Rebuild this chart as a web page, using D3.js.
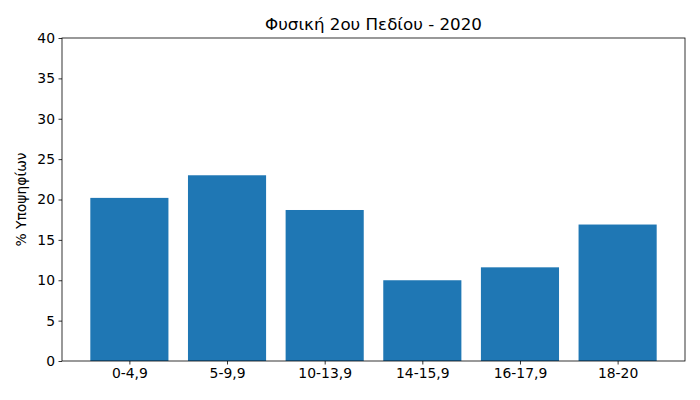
<!DOCTYPE html>
<html>
<head>
<meta charset="utf-8">
<script src="https://cdn.jsdelivr.net/npm/d3@7"></script>
<style>
  body { margin: 0; background: #fff; }
  text { font-family: "DejaVu Sans", sans-serif; }
</style>
</head>
<body>
<svg id="chart" width="700" height="400"></svg>
<script>
const categories = ['0-4,9', '5-9,9', '10-13,9', '14-15,9', '16-17,9', '18-20']
const percents = [20.2, 23.0, 18.7, 10.0, 11.6, 16.9]
const yTicks = [0, 5, 10, 15, 20, 25, 30, 35, 40]
const title = 'Φυσική 2ου Πεδίου - 2020'
const yLabel = '% Υποψηφίων'

const margin = { top: 38, right: 15, bottom: 39, left: 62 }
const width = 700 - margin.left - margin.right
const height = 400 - margin.top - margin.bottom

let svg = d3.select('#chart')
let g = svg.append('g').attr('transform', `translate(${margin.left},${margin.top})`)

// matplotlib style: bars of width 0.8 at integer positions, 5% margins
const pad = (categories.length - 1 + 0.8) * 0.05
let x = d3.scaleLinear()
    .domain([-0.4 - pad, categories.length - 1 + 0.4 + pad])
    .range([0, width])
let y = d3.scaleLinear().domain([0, 40]).range([height, 0])

g.selectAll('rect.bar')
    .data(percents)
    .join('rect')
    .attr('class', 'bar')
    .attr('x', (d, i) => x(i - 0.4))
    .attr('width', (d, i) => x(i + 0.4) - x(i - 0.4))
    .attr('y', d => y(d))
    .attr('height', d => y(0) - y(d))
    .attr('fill', '#1f77b4')

let xAxis = g.append('g')
    .attr('transform', `translate(0,${height})`)
    .call(d3.axisBottom(x)
        .tickValues(d3.range(categories.length))
        .tickFormat(i => categories[i])
        .tickSizeInner(3.5).tickSizeOuter(0).tickPadding(3.5))
let yAxis = g.append('g')
    .call(d3.axisLeft(y).tickValues(yTicks)
        .tickSizeInner(3.5).tickSizeOuter(0).tickPadding(3.5))

for (let ax of [xAxis, yAxis]) {
    ax.select('.domain').remove()
    ax.selectAll('text').attr('font-size', 13.9).attr('fill', '#000')
        .attr('font-family', '"DejaVu Sans", sans-serif')
    ax.selectAll('line').attr('stroke', '#000').attr('stroke-width', 0.8)
}

// frame
g.append('rect')
    .attr('width', width).attr('height', height)
    .attr('fill', 'none').attr('stroke', '#000').attr('stroke-width', 0.8)

svg.append('text')
    .attr('x', margin.left + width / 2).attr('y', margin.top - 8)
    .attr('text-anchor', 'middle').attr('font-size', 16.7)
    .text(title)

svg.append('text')
    .attr('transform', `translate(26,${margin.top + height / 2}) rotate(-90)`)
    .attr('text-anchor', 'middle').attr('font-size', 13.9)
    .text(yLabel)
</script>
</body>
</html>
